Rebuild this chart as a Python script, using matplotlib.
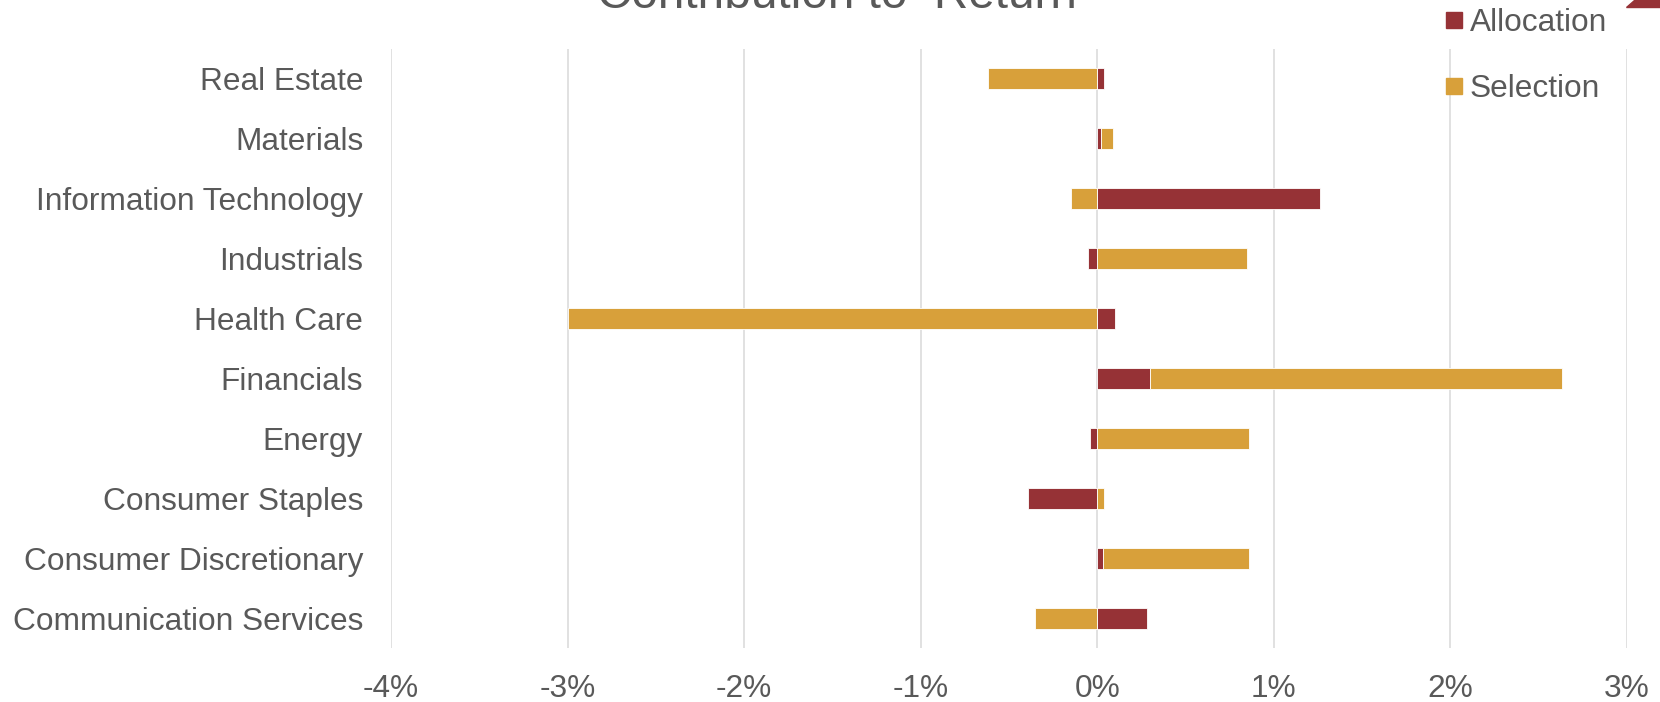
import matplotlib
matplotlib.use("Agg")
import matplotlib.pyplot as plt
from matplotlib.patches import Polygon, Rectangle
from matplotlib.ticker import FuncFormatter, MultipleLocator
import numpy as np

categories = ["Communication Services", "Consumer Discretionary", "Consumer Staples",
              "Energy", "Financials", "Health Care", "Industrials",
              "Information Technology", "Materials", "Real Estate"]
allocation = [0.28, 0.03, -0.39, -0.04, 0.30, 0.10, -0.05, 1.26, 0.02, 0.04]
selection = [-0.355, 0.83, 0.04, 0.86, 2.33, -3.00, 0.85, -0.15, 0.07, -0.62]
series_names = ["Allocation", "Selection"]
title = "Contribution to  Return"

ALLOC_C = "#963236"
SEL_C = "#D8A03A"
TXT = "#595959"
FS = 22.8

plt.rcParams['font.family'] = ['Liberation Sans', 'DejaVu Sans']

fig = plt.figure(figsize=(16.6, 7.02), dpi=100)
ax = fig.add_axes([391/1660, 1-648/702, (1627-391)/1660, (648-49)/702])

y = np.arange(len(categories))
alloc = np.array(allocation)
sel = np.array(selection)
sel_left = np.where(np.sign(sel) == np.sign(alloc), alloc, 0.0)

ax.barh(y, alloc, height=0.35, color=ALLOC_C, edgecolor="white", linewidth=0.6,
        label=series_names[0], zorder=3)
ax.barh(y, sel, left=sel_left, height=0.35, color=SEL_C, edgecolor="white",
        linewidth=0.6, label=series_names[1], zorder=3)

ax.set_xlim(-4, 3)
ax.set_ylim(-0.5, len(categories) - 0.5)
ax.set_yticks(y)
ax.set_yticklabels(categories)
ax.xaxis.set_major_locator(MultipleLocator(1))
ax.xaxis.set_major_formatter(FuncFormatter(lambda v, p: f"{v:.0f}%"))
ax.tick_params(axis='both', length=0, labelsize=FS, labelcolor=TXT)
ax.tick_params(axis='x', pad=19)
ax.tick_params(axis='y', pad=20)
ax.grid(axis='x', color="#D9D9D9", linewidth=1.1, zorder=0)
ax.set_axisbelow(True)
for s in ax.spines.values():
    s.set_visible(False)

fig.text(837/1660, 1-8/702, title, ha='center', va='baseline', fontsize=34.4, color=TXT)

# legend (manual)
for i, (name, col) in enumerate(zip(series_names, [ALLOC_C, SEL_C])):
    yc = [19.5, 85.5][i]
    fig.patches.append(Rectangle((1446/1660, 1-(yc+8)/702), 16/1660, 16/702,
                                 transform=fig.transFigure, color=col))
    fig.text(1470/1660, 1-yc/702, name, ha='left', va='center_baseline',
             fontsize=FS, color=TXT)

# partially visible marker of a third legend entry at the top-right corner
fig.patches.append(Polygon([(1626/1660, 1-7/702), (1.0, 1-7/702), (1.0, 1.0),
                            (1634/1660, 1.0)], closed=True,
                           transform=fig.transFigure, color=ALLOC_C))

fig.savefig("out.png", dpi=100)
